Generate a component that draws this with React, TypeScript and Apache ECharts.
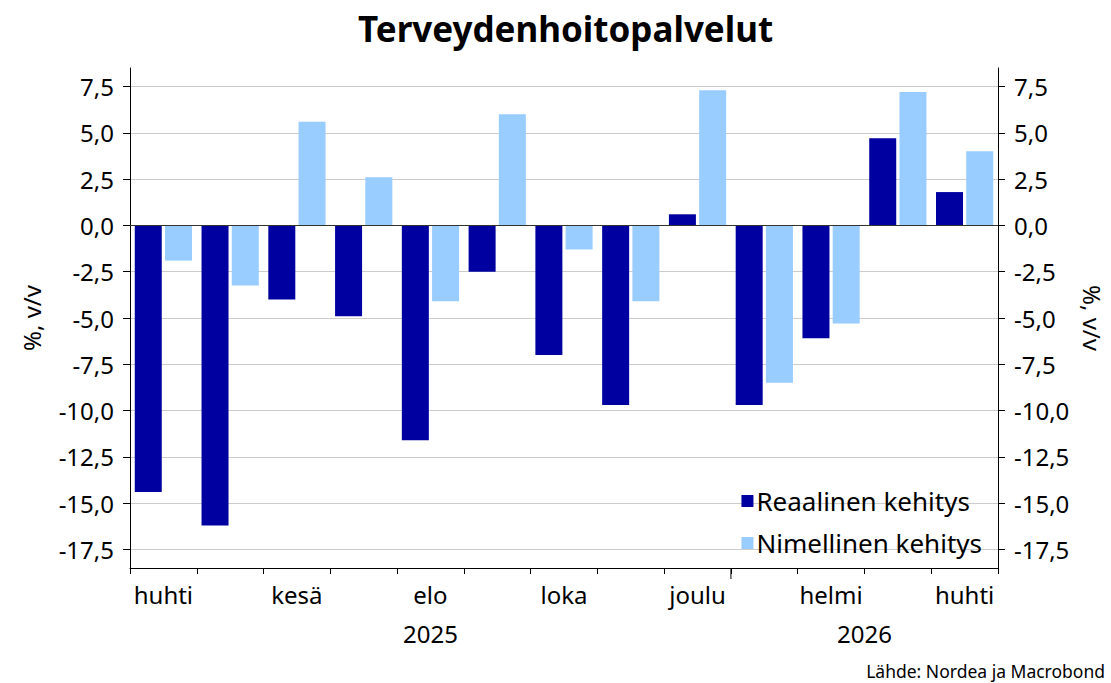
import React, { useEffect, useRef } from "react";
import * as echarts from "echarts";

const months = ["huhti", "touko", "kesä", "heinä", "elo", "syys", "loka", "marras", "joulu", "tammi", "helmi", "maalis", "huhti"];
const years = [
  { label: "2025", from: 0, to: 8 },
  { label: "2026", from: 9, to: 12 },
];
const realGrowth = [-14.4, -16.2, -4.0, -4.9, -11.6, -2.5, -7.0, -9.7, 0.6, -9.7, -6.1, 4.7, 1.8];
const nominalGrowth = [-1.9, -3.25, 5.6, 2.6, -4.1, 6.0, -1.3, -4.1, 7.3, -8.5, -5.3, 7.2, 4.0];
const yTicks = [-17.5, -15, -12.5, -10, -7.5, -5, -2.5, 0, 2.5, 5, 7.5];

const FONT = "Noto Sans";
const TICK_FS = 24;
const fmt = (v: number) => v.toFixed(1).replace(".", ",");

export default function App() {
  const ref = useRef<HTMLDivElement>(null);
  useEffect(() => {
    if (!ref.current) return;
    const chart = echarts.init(ref.current, null, { renderer: "svg" });
    const yAxisCommon = {
      type: "value" as const,
      min: -18.5,
      max: 8.5,
      nameLocation: "middle" as const,
      name: "%, v/v",
      nameTextStyle: { fontFamily: FONT, fontSize: 24, color: "#000" },
      axisLine: { show: true, lineStyle: { color: "#000", width: 1 } },
      axisTick: { show: true, length: 7, inside: false, customValues: yTicks, lineStyle: { color: "#000" } },
      axisLabel: { customValues: yTicks, formatter: fmt, fontFamily: FONT, fontSize: TICK_FS, color: "#000", margin: 16 },
      splitLine: { show: true, lineStyle: { color: "#cccccc", width: 1 } },
    };
    chart.setOption({
      animation: false,
      title: {
        text: "Terveydenhoitopalvelut",
        left: 353,
        top: 6,
        textStyle: { fontFamily: FONT, fontSize: 35, fontWeight: "bold", color: "#000" },
      },
      grid: { left: 130, right: 113, top: 68, bottom: 115, containLabel: false, outerBoundsMode: "none" },
      legend: {
        orient: "vertical",
        right: 124,
        top: 483,
        itemWidth: 12,
        itemHeight: 12,
        itemGap: 16,
        icon: "rect",
        textStyle: { fontFamily: FONT, fontSize: 26, color: "#000", padding: [0, 0, 0, -2] },
        data: ["Reaalinen kehitys", "Nimellinen kehitys"],
      },
      xAxis: {
        type: "category",
        data: months,
        boundaryGap: true,
        axisLine: { show: true, onZero: false, lineStyle: { color: "#000" } },
        axisTick: { show: true, length: 6, alignWithLabel: false, interval: 0, lineStyle: { color: "#000" } },
        axisLabel: { interval: 1, fontFamily: FONT, fontSize: TICK_FS, color: "#000", margin: 14 },
        splitLine: { show: false },
      },
      yAxis: [
        { ...yAxisCommon, position: "left", nameGap: 87, nameRotate: 90 },
        { ...yAxisCommon, position: "right", nameGap: 81, nameRotate: -90, splitLine: { show: false } },
      ],
      series: [
        {
          name: "Reaalinen kehitys",
          type: "bar",
          data: realGrowth,
          barWidth: 27,
          barGap: "12%",
          itemStyle: { color: "#0000A0" },
          markLine: {
            silent: true,
            symbol: "none",
            label: { show: false },
            lineStyle: { color: "#333", width: 1, type: "solid" },
            data: [{ yAxis: 0 }],
          },
        },
        {
          name: "Nimellinen kehitys",
          type: "bar",
          data: nominalGrowth,
          barWidth: 27,
          barGap: "12%",
          itemStyle: { color: "#99CCFF" },
        },
      ],
    });

    const px = (i: number) => chart.convertToPixel({ xAxisIndex: 0 }, i) as number;
    const step = px(1) - px(0);
    const axisY = 683 - 115;
    const graphics: any[] = years.map((y) => ({
      type: "text",
      style: {
        text: y.label,
        x: (px(y.from) + px(y.to)) / 2,
        y: axisY + 65,
        textAlign: "center",
        textVerticalAlign: "middle",
        fontFamily: FONT,
        fontSize: TICK_FS,
        fill: "#000",
      },
    }));
    const boundary = px(years[1].from) - step / 2;
    graphics.push({
      type: "line",
      shape: { x1: boundary, y1: axisY, x2: boundary, y2: axisY + 11 },
      style: { stroke: "#000", lineWidth: 1 },
    });
    graphics.push({
      type: "text",
      style: {
        text: "Lähde: Nordea ja Macrobond",
        x: 1105,
        y: 671,
        textAlign: "right",
        textVerticalAlign: "middle",
        fontFamily: FONT,
        fontSize: 17.5,
        fill: "#000",
      },
    });
    chart.setOption({ graphic: graphics });

    return () => chart.dispose();
  }, []);
  return <div ref={ref} style={{ width: 1111, height: 683, position: "absolute", left: 0, top: 0 }} />;
}
